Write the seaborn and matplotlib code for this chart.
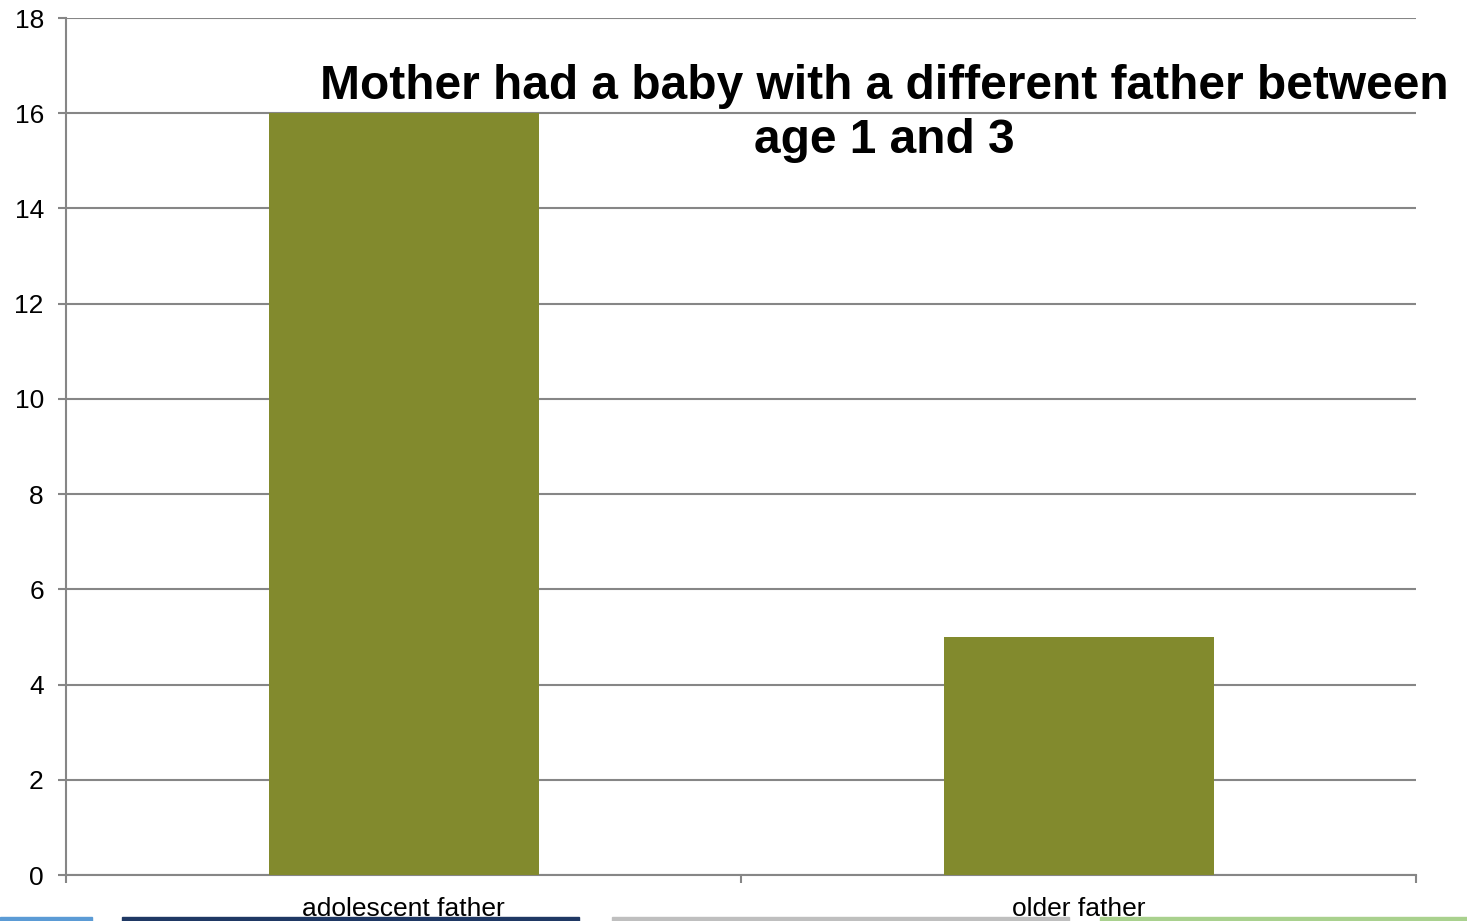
import matplotlib
matplotlib.use("Agg")
import matplotlib.pyplot as plt
import seaborn as sns
import pandas as pd
from matplotlib.patches import Rectangle

categories = ["adolescent father", "older father"]
values = [16, 5]
title = "Mother had a baby with a different father between\nage 1 and 3"

df = pd.DataFrame({"group": categories, "count": values})

sns.set_style("white")
plt.rcParams["font.family"] = ["Liberation Sans", "DejaVu Sans"]
plt.rcParams["text.color"] = "black"
plt.rcParams["xtick.color"] = "black"
plt.rcParams["ytick.color"] = "black"

fig = plt.figure(figsize=(14.67, 9.21), dpi=100)
ax = fig.add_axes([66 / 1467, 46 / 921, 1350 / 1467, 857 / 921])

sns.barplot(data=df, x="group", y="count", color="#828A2D", width=0.4,
            saturation=1, linewidth=0, ax=ax, zorder=3)

ax.set_xlim(-0.5, 1.5)
ax.set_ylim(0, 18)
ax.set_yticks(range(0, 19, 2))
ax.yaxis.grid(True, color="#868686", linewidth=1.5, zorder=0)
ax.set_axisbelow(True)
ax.set_xlabel("")
ax.set_ylabel("")

for s in ["top", "right"]:
    ax.spines[s].set_visible(False)
for s in ["left", "bottom"]:
    ax.spines[s].set_color("#868686")
    ax.spines[s].set_linewidth(1.5)

ax.tick_params(axis="y", which="major", length=6, width=1.5, color="#868686",
               labelcolor="black", labelsize=19, pad=10, left=True)
ax.tick_params(axis="x", which="major", length=0, labelsize=19,
               labelcolor="black", pad=16)
ax.set_xticks([-0.5, 0.5, 1.5], minor=True)
ax.tick_params(axis="x", which="minor", length=6, width=1.5, color="#868686",
               bottom=True)

fig.text(884 / 1467, 1 - 113.5 / 921, title, ha="center", va="center",
         fontsize=34.5, fontweight="bold", linespacing=1.28, color="black")

# slide footer strips
strips = [(0, 92, "#5B9BD5"), (122, 579, "#1F3864"),
          (612, 1069, "#BFBFBF"), (1100, 1467, "#A9D18E")]
for x0, x1, c in strips:
    fig.add_artist(Rectangle((x0 / 1467, 0), (x1 - x0) / 1467, 4 / 921,
                             transform=fig.transFigure, color=c, zorder=0))

fig.savefig("out.png", dpi=100)
